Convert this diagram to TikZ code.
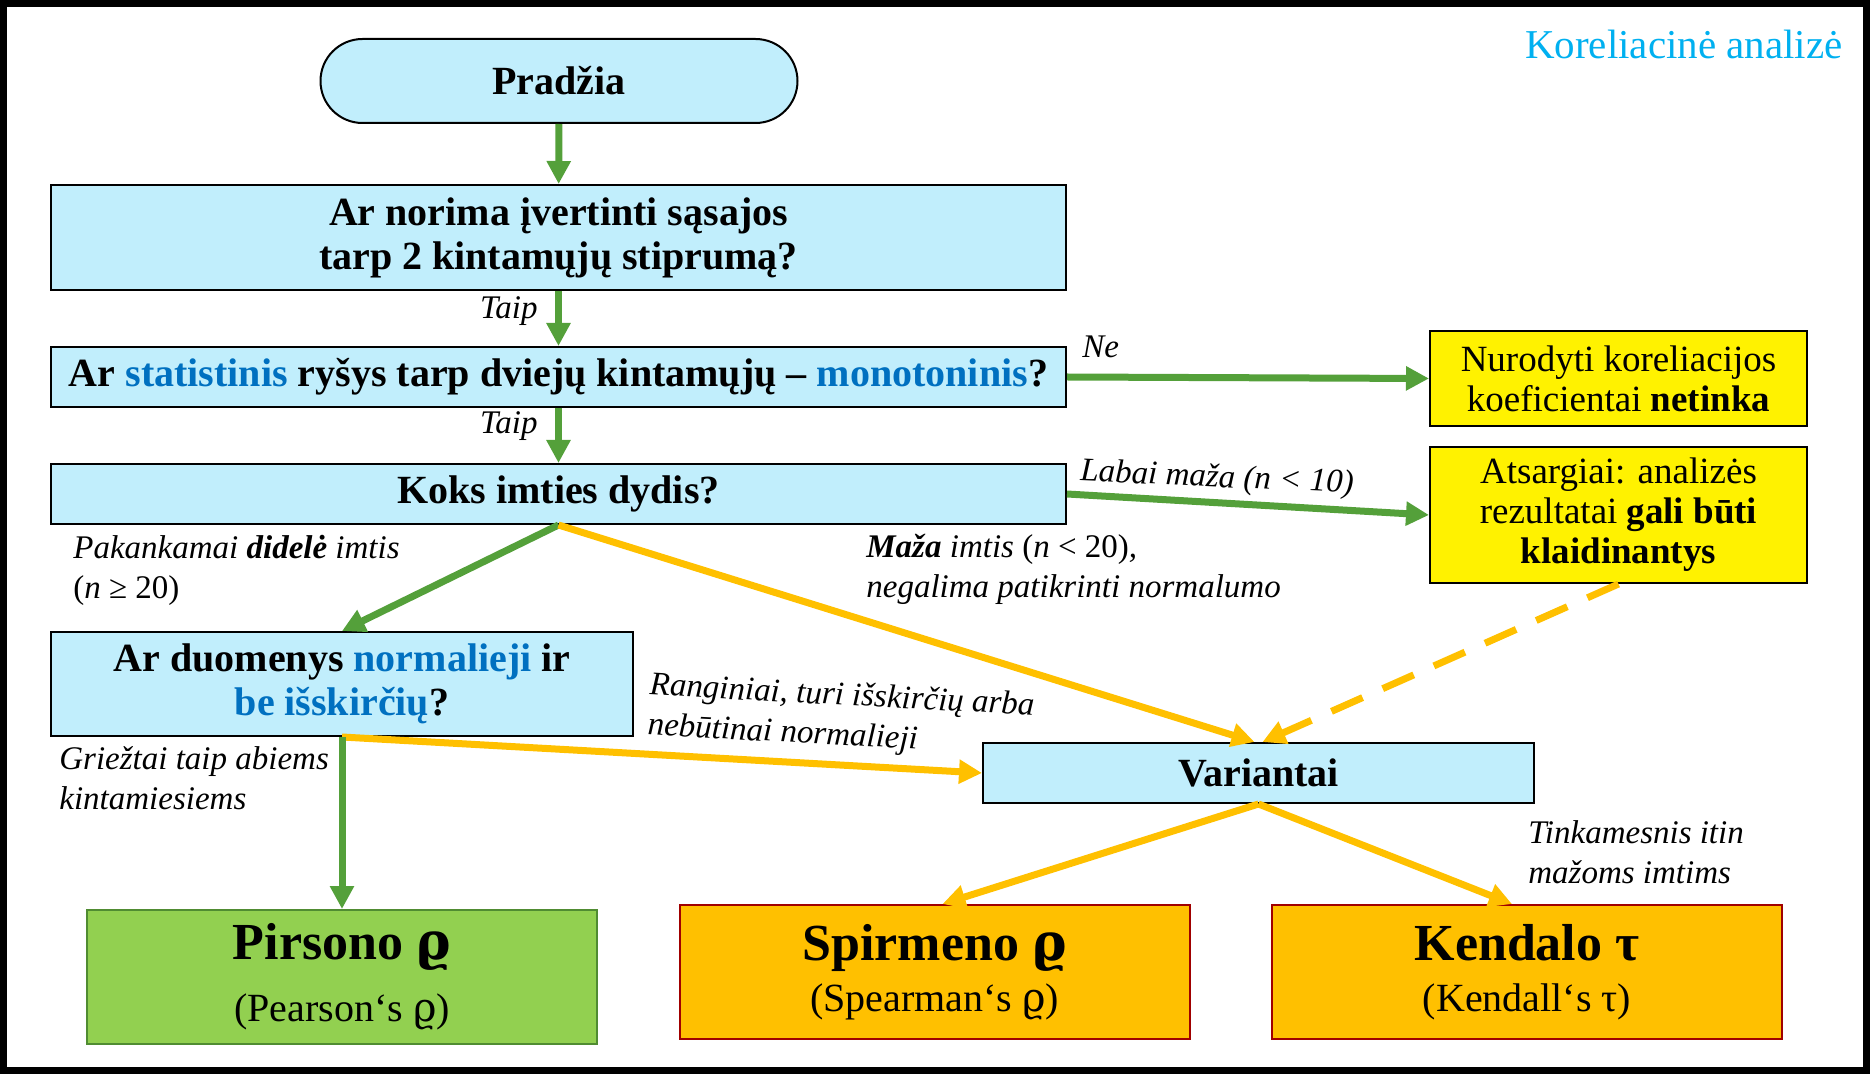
\documentclass[tikz,border=0pt]{standalone}
\usepackage{fontspec}
\setmainfont{Liberation Serif}
\newfontfamily\grk{DejaVu Serif}
\usetikzlibrary{arrows.meta, shapes.misc}

\definecolor{qfill}{RGB}{193,238,252}
\definecolor{agreen}{RGB}{84,160,58}
\definecolor{aorange}{RGB}{255,192,0}
\definecolor{pgreen}{RGB}{146,208,80}
\definecolor{pborder}{RGB}{80,140,50}
\definecolor{oborder}{RGB}{160,0,0}
\definecolor{wblue}{RGB}{0,112,192}
\definecolor{tcyan}{RGB}{0,176,240}
\newcommand{\kw}[1]{\textcolor{wblue}{#1}}
\newcommand{\rhosym}{{\grk ϱ}}

\begin{document}
\begin{tikzpicture}[
  x=0.5pt, y=-0.5pt,
  qbox/.style={draw, line width=1pt, fill=qfill, align=center, inner sep=1pt,
    font=\fontsize{20}{22}\selectfont\bfseries},
  stadium/.style={qbox, rounded rectangle, minimum width=240.5pt, minimum height=42pt},
  warn/.style={draw, line width=1pt, fill=yellow, align=center, inner sep=1pt,
    minimum width=188.5pt, font=\fontsize{18.5}{20}\selectfont},
  result/.style={draw, line width=1pt, align=center, inner sep=1pt,
    minimum width=255pt, minimum height=67pt},
  pbox/.style={result, fill=pgreen, draw=pborder, font=\fontsize{20}{31}\selectfont},
  obox/.style={result, fill=aorange, draw=oborder, font=\fontsize{20}{25.5}\selectfont},
  lbl/.style={font=\fontsize{16.5}{20}\selectfont\itshape, align=left, inner sep=0pt},
  title/.style={font=\fontsize{20.5}{24}\selectfont, text=tcyan, inner sep=0pt},
  garr/.style={draw=agreen, line width=3.5pt, -{Triangle[length=11.5pt,width=11.5pt]}},
  oarr/.style={draw=aorange, line width=3.5pt, -{Triangle[length=11.5pt,width=11.5pt]}}
]
\useasboundingbox (0,0) rectangle (1870,1074);

\node[title, anchor=base east] (title) at (1843,59) {Koreliacinė analizė};

\node[stadium] (start) at (559,81) {Pradžia};
\node[qbox, minimum width=507.5pt, minimum height=52.5pt] (q1) at (558.5,237.5)
  {Ar norima įvertinti sąsajos\\tarp 2 kintamųjų stiprumą?};
\node[qbox, minimum width=507.5pt, minimum height=30pt] (q2) at (558.5,377)
  {Ar \kw{statistinis} ryšys tarp dviejų kintamųjų – \kw{monotoninis}?};
\node[qbox, minimum width=507.5pt, minimum height=30pt] (q3) at (558.5,494)
  {Koks imties dydis?};
\node[qbox, minimum width=291pt, minimum height=52pt] (q4) at (342,684)
  {Ar duomenys \kw{normalieji} ir\\\kw{be išskirčių}?};
\node[qbox, minimum width=275.5pt, minimum height=30pt] (var) at (1258.5,773)
  {Variantai};

\node[warn, minimum height=47.5pt] (nofit) at (1618.5,378.5)
  {Nurodyti koreliacijos\\koeficientai \textbf{netinka}};
\node[warn, minimum height=68pt] (careful) at (1618.5,515)
  {Atsargiai: analizės\\rezultatai \textbf{gali būti}\\\textbf{klaidinantys}};

\node[pbox] (pearson) at (342,977)
  {{\fontsize{26}{31}\selectfont\bfseries Pirsono \rhosym}\\(Pearson‘s \rhosym)};
\node[obox] (spearman) at (934.5,972)
  {{\fontsize{26}{25.5}\selectfont\bfseries Spirmeno \rhosym}\\(Spearman‘s \rhosym)};
\node[obox] (kendall) at (1527,972)
  {{\fontsize{26}{25.5}\selectfont\bfseries Kendalo τ}\\(Kendall‘s τ)};

\draw[garr] (start) -- (q1);
\draw[garr] (q1) -- (q2);
\draw[garr] (q2) -- (q3);
\draw[garr] (q2.east) -- (nofit.west);
\draw[garr] (q3.east) -- (careful.west);
\draw[garr] (q3.south) -- (q4.north);
\draw[oarr] (q3.south) -- ([xshift=-2pt]var.north);
\draw[oarr, dash pattern=on 17pt off 11pt] (careful.south) -- ([xshift=2pt]var.north);
\draw[oarr] (q4.south) -- (var.west);
\draw[garr] (q4.south) -- (pearson.north);
\draw[oarr] (var.south) -- ([xshift=4pt]spearman.north);
\draw[oarr] (var.south) -- ([xshift=-7.5pt]kendall.north);

\node[lbl, anchor=east] (taip1) at (538,311) {Taip};
\node[lbl, anchor=east] (taip2) at (538,426) {Taip};
\node[lbl, anchor=west] (ne) at (1082,347) {Ne};
\node[lbl, rotate=-2.5] (tiny) at (1217,479) {Labai maža (\textit{n} < 10)};
\node[lbl, anchor=west] (large) at (73,570)
  {Pakankamai \textbf{didelė} imtis\\{\upshape(}n{\upshape\ ≥ 20)}};
\node[lbl, anchor=west] (small) at (866,569)
  {\textbf{Maža} imtis {\upshape(}n{\upshape\ < 20)},\\negalima patikrinti normalumo};
\node[lbl, rotate=-3] (rank) at (841,717)
  {Ranginiai, turi išskirčių arba\\nebūtinai normalieji};
\node[lbl, anchor=west] (strict) at (59,778)
  {Griežtai taip abiems\\kintamiesiems};
\node[lbl, anchor=west] (better) at (1528,852)
  {Tinkamesnis itin\\mažoms imtims};

\draw[line width=3.5pt] (3.5,3.5) rectangle (1866.5,1070.5);
\end{tikzpicture}
\end{document}
